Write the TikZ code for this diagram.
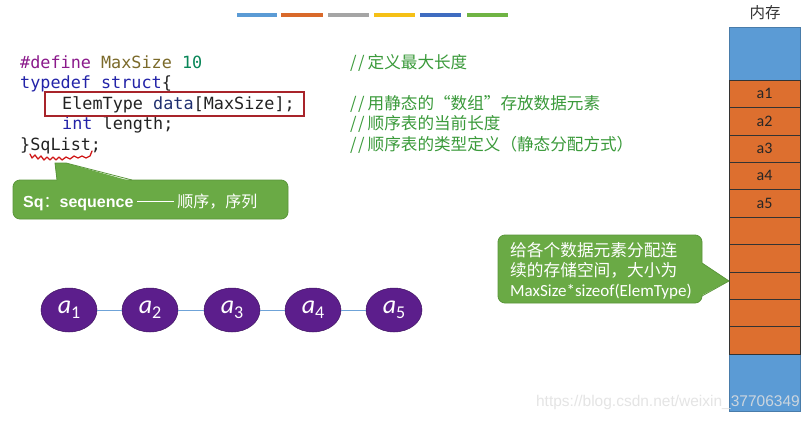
\documentclass[tikz,border=0pt]{standalone}
\usepackage{fontspec}
\usetikzlibrary{shapes.geometric}
\newfontfamily\codefont{DejaVu Sans Mono}
\newfontfamily\cjkfont{Noto Sans CJK SC}
\newfontfamily\cjkwide[RawFeature=+fwid]{Noto Sans CJK SC}
\newfontfamily\calfont{Carlito}
\newfontfamily\arialfont{Liberation Sans}
\definecolor{memblue}{HTML}{5B9BD5}
\definecolor{memorange}{HTML}{DD6F2F}
\definecolor{barorange}{HTML}{D9692A}
\definecolor{bargray}{HTML}{A5A5A5}
\definecolor{baryellow}{HTML}{F5C016}
\definecolor{bardarkblue}{HTML}{3F6CC0}
\definecolor{bargreen}{HTML}{6FB444}
\definecolor{callgreen}{HTML}{6AAA45}
\definecolor{callborder}{HTML}{5A963A}
\definecolor{nodepurple}{HTML}{5C1E8C}
\definecolor{edgeblue}{HTML}{6FA3D8}
\definecolor{kwpurple}{HTML}{8B1A8B}
\definecolor{macroolive}{HTML}{7B6A2A}
\definecolor{numgreen}{HTML}{098658}
\definecolor{kwblue}{HTML}{2323A8}
\definecolor{navy}{HTML}{1F2F6F}
\definecolor{textdark}{HTML}{222222}
\definecolor{cmtgreen}{HTML}{3A9A3A}
\definecolor{boxred}{HTML}{A8242A}
\definecolor{squiggle}{HTML}{D01818}
\tikzset{
  codeline/.style={anchor=base west, inner sep=0pt, text=textdark,
    font=\codefont\fontsize{16.8}{20}\selectfont},
  cmtline/.style={anchor=base west, inner sep=0pt, text=cmtgreen,
    font=\cjkfont\fontsize{16.6}{20}\selectfont},
  noteline/.style={anchor=base west, inner sep=0pt, text=white,
    font=\cjkfont\fontsize{16.7}{20}\selectfont},
  bar/.style={line width=4pt},
  cell/.style={fill=memorange, draw=black!80, line width=0.6pt},
  celllabel/.style={font=\calfont\fontsize{16}{18}\selectfont, text=black!85, inner sep=0pt},
  elem/.style={ellipse, fill=nodepurple, draw=nodepurple!70!black, line width=0.5pt,
    minimum width=56pt, minimum height=44pt, inner sep=0pt, text=white},
  link/.style={draw=edgeblue, line width=1pt},
  callout/.style={fill=callgreen, draw=callborder, line width=0.8pt, rounded corners=7pt},
}
\newcommand{\elemlabel}[1]{{\calfont\itshape\fontsize{26}{26}\selectfont a}\raisebox{-5pt}{\calfont\fontsize{18}{18}\selectfont #1}}
\newcommand{\longdash}{\rule[0.33em]{2.3em}{0.7pt}}
% comment marker: two slashes, spaced a little wider than the plain glyphs
\newcommand{\cmt}{/\kern1.5pt/\kern3pt}
\newcommand{\fw}[1]{{\cjkwide #1}}
\begin{document}
\begin{tikzpicture}[x=1pt,y=-1pt]
\useasboundingbox[fill=white] (0,0) rectangle (809,421);

% colour bars along the top
\draw[bar, memblue]     (237,15) -- (277,15);
\draw[bar, barorange]   (281,15) -- (323,15);
\draw[bar, bargray]     (328,15) -- (369,15);
\draw[bar, baryellow]   (374,15) -- (415,15);
\draw[bar, bardarkblue] (420,15) -- (461,15);
\draw[bar, bargreen]    (467,15) -- (508,15);

% memory column
\node[font=\cjkfont\fontsize{15.5}{18}\selectfont, text=black!80] (memtitle) at (765,13) {内存};
\fill[memblue] (729,27) rectangle (800,80);
\fill[memblue] (729,354) rectangle (800,411);
\draw[memblue!80!black, line width=0.5pt] (729,27) rectangle (800,411);
\foreach \i in {1,...,10} {
  \pgfmathsetmacro{\top}{80+(\i-1)*27.4}
  \pgfmathsetmacro{\bot}{80+\i*27.4}
  \path[cell] (729,\top) rectangle (800,\bot);
  \coordinate (cell\i) at (764.5,{(\top+\bot)/2});
}
\foreach \i in {1,...,5} {
  \node[celllabel] (m\i) at (cell\i) {a\i};
}

% code
\node[codeline] (l1) at (20,68) {\textcolor{kwpurple}{\#define} \textcolor{macroolive}{MaxSize} \textcolor{numgreen}{10}};
\node[codeline] (l2) at (20,88) {\textcolor{kwblue}{typedef struct}\{};
\node[codeline] (l3) at (62,109) {ElemType \textcolor{navy}{data}[MaxSize];};
\node[codeline] (l4) at (62,129) {\textcolor{kwblue}{int} length;};
\node[codeline] (l5) at (20,150) {\}SqList;};
\draw[boxred, line width=2pt] (45,92) rectangle (304,116);
\draw[squiggle, line width=1.3pt, line cap=round, line join=round]
  (30,154) -- (32,158) -- (35,155) -- (38,159) -- (41,156) -- (44,160) -- (47,157)
  -- (50,160) -- (53,157) -- (56,160) -- (59,157) -- (62,160) -- (66,157) -- (70,159)
  -- (74,156) -- (78,158) -- (82,156) -- (86,158) -- (90,156) -- (92,151);

% comments
\node[cmtline] (c1) at (350,68) {\cmt 定义最大长度};
\node[cmtline] (c3) at (350,109) {\cmt 用静态的\fw{“}数组\fw{”}存放数据元素};
\node[cmtline] (c4) at (350,129) {\cmt 顺序表的当前长度};
\node[cmtline] (c5) at (350,150) {\cmt 顺序表的类型定义\fw{（}静态分配方式\fw{）}};

% callout: Sq
\path[callout] (13,180) rectangle (288,219);
\fill[callgreen] (57,181.5) -- (55,163) -- (66,163) -- (132,181.5) -- cycle;
\draw[callborder, line width=0.8pt] (57,180) -- (55,163) -- (66,163) -- (132,180);
\node[anchor=base west, inner sep=0pt, text=white] (sqnote) at (23,207)
  {\arialfont\bfseries\fontsize{16}{18}\selectfont Sq\cjkwide\mdseries：\arialfont\bfseries sequence\cjkfont\mdseries{} \longdash{} 顺序\fw{，}序列};

% callout: storage
\path[callout] (498,235) rectangle (702,303);
\fill[callgreen] (700.5,262) -- (729,281) -- (700.5,296) -- cycle;
\draw[callborder, line width=0.8pt] (702,263) -- (729,281) -- (702,296);
\node[noteline] (memnote1) at (510,256) {给各个数据元素分配连};
\node[noteline] (memnote2) at (510,276) {续的存储空间\fw{，}大小为};
\node[noteline, font=\calfont\fontsize{17}{20}\selectfont] (memnote3) at (510,296) {MaxSize*sizeof(ElemType)};

% linear list
\node[elem] (a1) at (69,310) {\elemlabel{1}};
\node[elem] (a2) at (150,310) {\elemlabel{2}};
\node[elem] (a3) at (232,310) {\elemlabel{3}};
\node[elem] (a4) at (313,310) {\elemlabel{4}};
\node[elem] (a5) at (394,310) {\elemlabel{5}};
\draw[link] (a1) -- (a2);
\draw[link] (a2) -- (a3);
\draw[link] (a3) -- (a4);
\draw[link] (a4) -- (a5);

% watermark
\node[anchor=east, inner sep=0pt, text=white!88!black, opacity=0.85,
  font=\arialfont\fontsize{15.5}{18}\selectfont] (wm) at (800,402) {https://blog.csdn.net/weixin\_37706349};
\end{tikzpicture}
\end{document}
